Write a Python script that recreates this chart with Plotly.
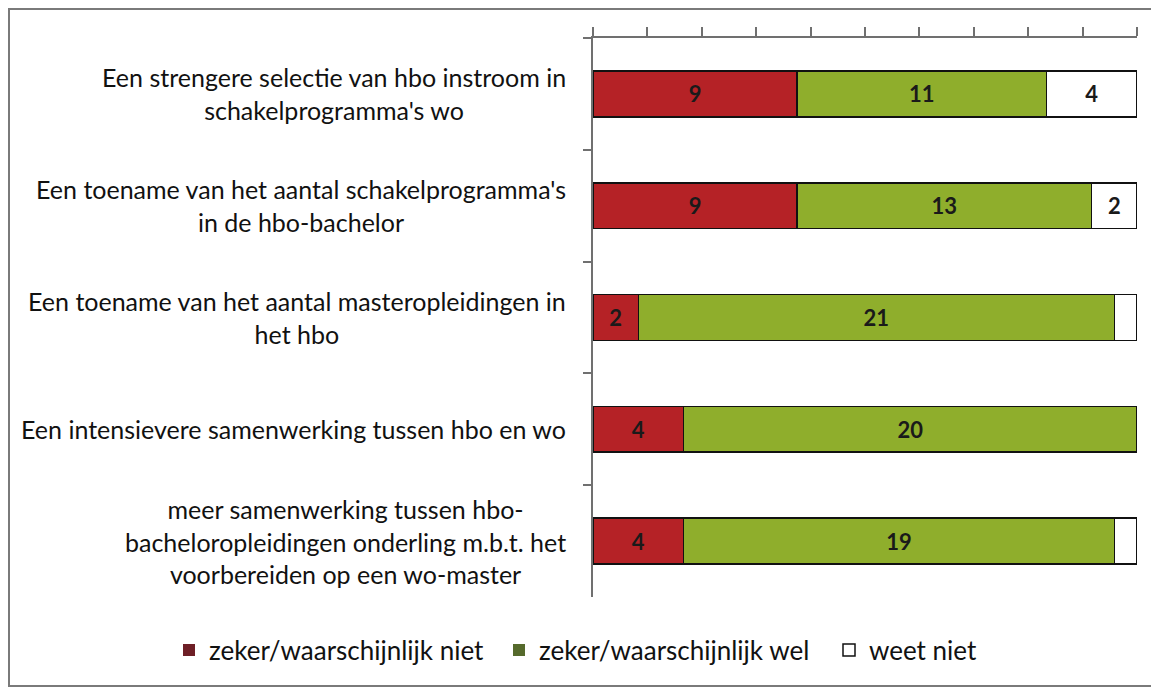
import plotly.graph_objects as go

categories = [
    "Een strengere selectie van hbo instroom in<br>schakelprogramma's wo",
    "Een toename van het aantal schakelprogramma's<br>in de hbo-bachelor",
    "Een toename van het aantal masteropleidingen in<br>het hbo",
    "Een intensievere samenwerking tussen hbo en wo",
    "meer samenwerking tussen hbo-<br>bacheloropleidingen onderling m.b.t. het<br>voorbereiden op een wo-master",
]
niet = [9, 9, 2, 4, 4]
wel = [11, 13, 21, 20, 19]
weet_niet = [4, 2, 1, 0, 1]
series_names = ["zeker/waarschijnlijk niet", "zeker/waarschijnlijk wel", "weet niet"]

bar_colors = ["#B52226", "#8FAE2C", "#FFFFFF"]
legend_colors = ["#6E1F26", "#566A2C", "#FFFFFF"]

FONT = "Lato"
ids = [str(i) for i in range(len(categories))]

fig = go.Figure()
for vals, name, col in zip([niet, wel, weet_niet], series_names, bar_colors):
    fig.add_trace(go.Bar(
        y=ids, x=vals, orientation="h", name=name,
        marker=dict(color=col, line=dict(color="#111111", width=1.5)),
        text=[str(v) if v >= 2 else "" for v in vals],
        textposition="inside", insidetextanchor="middle", textangle=0,
        constraintext="none",
        textfont=dict(family=FONT, size=22, color="#1a1a1a", weight="bold"),
        width=0.41, showlegend=False, hoverinfo="x+name",
    ))
# legend-only entries (swatch colours as in the original legend)
for name, col in zip(series_names, legend_colors):
    fig.add_trace(go.Bar(
        y=[None], x=[None], orientation="h", name=name,
        marker=dict(color=col, line=dict(color="#111111", width=1.5 if col == "#FFFFFF" else 0)),
        showlegend=True, hoverinfo="skip",
    ))

for cid, label in zip(ids, categories):
    fig.add_annotation(
        x=0, xref="paper", y=cid, yref="y", text=label, showarrow=False,
        xanchor="right", yanchor="middle", align="center", xshift=-25,
        font=dict(family=FONT, size=25, color="#111111"),
    )

# page body has an 8px margin, so figure coordinates are shifted by 8px
OFF = 8
W, H = 1159 - OFF, 688 - OFF
L, T = 593 - OFF, 38 - OFF
R = W - (1137 - OFF)
B = H - (597 - OFF)
pw, ph = W - L - R, H - T - B
fig.add_shape(
    type="rect", xref="paper", yref="paper",
    x0=(9 - OFF - L) / pw, x1=(1156 - OFF - L) / pw,
    y0=((H - B) - (686 - OFF)) / ph, y1=((H - B) - (8 - OFF) - 1) / ph,
    line=dict(color="#7a7a7a", width=2), fillcolor="rgba(0,0,0,0)", layer="below",
)

fig.update_layout(
    width=W, height=H, barmode="stack", bargap=0.59,
    margin=dict(l=L, r=R, t=T, b=B, pad=0),
    plot_bgcolor="white", paper_bgcolor="white",
    font=dict(family=FONT, size=22, color="#111111"),
    legend=dict(orientation="h", x=(170 - 593) / pw, xanchor="left",
                y=-(650 - 597) / ph, yanchor="middle",
                xref="paper", yref="paper",
                font=dict(family=FONT, size=26, color="#111111"),
                entrywidth=285, entrywidthmode="pixels",
                itemwidth=30, traceorder="normal", bgcolor="rgba(0,0,0,0)"),
    xaxis=dict(range=[0, 24], side="top", showgrid=False, zeroline=False,
               showline=True, linecolor="#707070", linewidth=1.5,
               ticks="outside", ticklen=9, tickcolor="#707070", tickwidth=1.5,
               tick0=0, dtick=2.4, showticklabels=False, fixedrange=True),
    yaxis=dict(autorange="reversed", type="category", showgrid=False, zeroline=False,
               showline=True, linecolor="#707070", linewidth=1.5,
               ticks="outside", ticklen=8, tickcolor="#707070", tickwidth=1.5,
               tickson="boundaries", showticklabels=False),
)

fig.write_html("out.html")
